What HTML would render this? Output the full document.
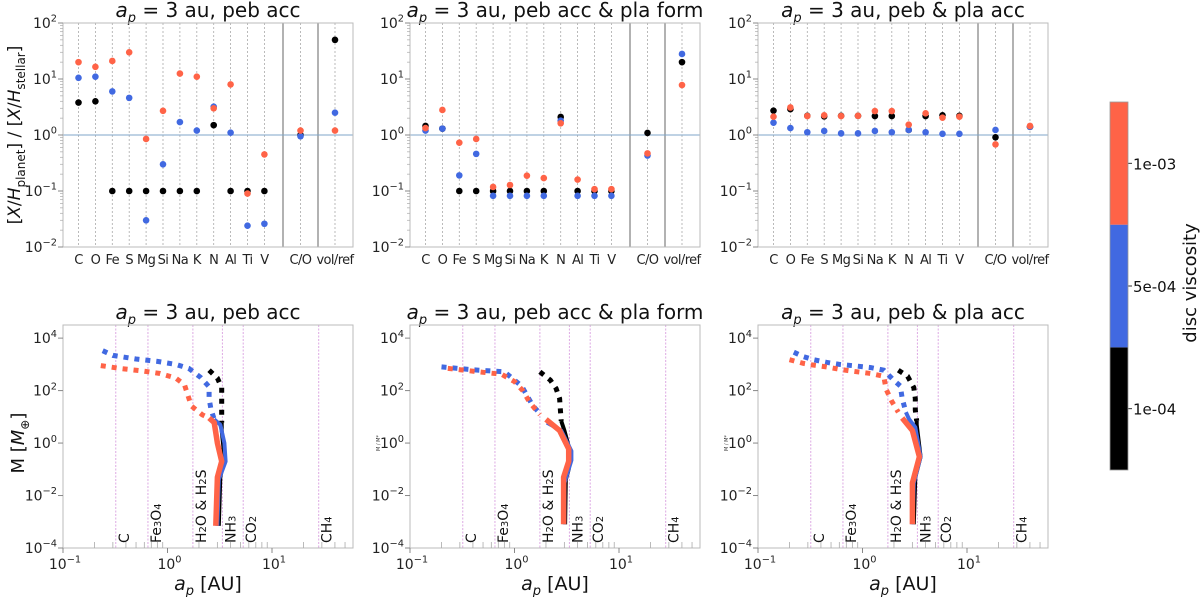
<!DOCTYPE html>
<html><head><meta charset="utf-8"><style>
body{margin:0;background:#fff}
svg{display:block;font-family:"DejaVu Sans","Liberation Sans",sans-serif}
</style></head><body>
<svg id="fig" width="1200" height="597" viewBox="0 0 1200 597">
<g id="root"></g>
</svg>
<script>
// ---------- data ----------
const elements = ["C","O","Fe","S","Mg","Si","Na","K","N","Al","Ti","V","C/O","vol/ref"];
const viscLabels = ["1e-04","5e-04","1e-03"];
const colors = ["#000000","#4169E1","#FF6347"];
const topTitles = ["peb acc","peb acc & pla form","peb & pla acc"];
// abundance ratios, per panel, per viscosity (black, blue, red)
const p1Black = [3.8,4.0,0.1,0.1,0.1,0.1,0.1,0.1,1.5,0.1,0.1,0.1,1.0,50];
const p1Blue  = [10.5,11,6,4.6,0.03,0.3,1.7,1.2,3.2,1.1,0.024,0.026,0.95,2.5];
const p1Red   = [20,16.5,21,30,0.85,2.7,12.5,11,3.0,8,0.09,0.45,1.2,1.2];
const p2Black = [1.45,1.3,0.1,0.1,0.1,0.1,0.1,0.1,2.1,0.1,0.1,0.1,1.09,20];
const p2Blue  = [1.2,1.3,0.19,0.46,0.082,0.082,0.082,0.082,1.8,0.082,0.082,0.082,0.43,28];
const p2Red   = [1.33,2.8,0.73,0.85,0.118,0.128,0.188,0.17,1.62,0.16,0.108,0.108,0.47,7.8];
const p3Black = [2.72,2.9,2.2,2.15,2.2,2.2,2.18,2.18,1.23,2.18,2.25,2.2,0.91,1.4];
const p3Blue  = [1.66,1.33,1.12,1.18,1.07,1.07,1.18,1.12,1.23,1.12,1.05,1.05,1.23,1.4];
const p3Red   = [2.12,3.1,2.18,2.25,2.18,2.2,2.68,2.68,1.53,2.44,2.04,2.12,0.68,1.45];
// growth tracks: [a_p AU, M Mearth]; dotted part then solid part
const t1BlackDot = [[2.5,600],[3.0,300],[3.3,130],[3.3,40],[3.3,15],[3.3,6]];
const t1BlackSol = [[3.3,6],[3.3,3],[3.5,0.3],[3.2,0.05],[3.1,0.0007]];
const t1BlueDot  = [[0.24,3300],[0.3,2200],[0.5,1600],[0.8,1300],[1.2,1000],[1.6,700],[2.07,320],[2.5,140],[2.5,50],[2.6,20],[2.8,8]];
const t1BlueSol  = [[2.8,8],[3.2,5],[3.5,1.0],[3.6,0.2],[3.1,0.04],[3.0,0.0007]];
const t1RedDot   = [[0.23,900],[0.35,700],[0.6,550],[0.85,450],[1.2,300],[1.45,170],[1.69,26],[2.15,12],[2.5,9]];
const t1RedSol   = [[2.5,9],[2.8,6],[3.0,1],[3.3,0.2],[3.0,0.05],[2.9,0.0007]];
const t2BlackDot = [[1.75,520],[2.2,250],[2.5,120],[2.7,50],[2.75,18],[2.8,7]];
const t2BlackSol = [[2.8,7],[3.0,3],[3.4,0.5],[3.3,0.1],[3.1,0.04],[3.05,0.0008]];
const t2BlueDot  = [[0.2,800],[0.4,620],[0.8,520],[1.17,150],[1.5,26],[1.8,12]];
const t2BlueSol  = [[2.04,6],[2.8,3],[3.5,0.5],[3.5,0.22],[3.0,0.03],[3.0,0.0008]];
const t2RedDot   = [[0.23,700],[0.5,500],[0.75,420],[1.0,220],[1.2,100],[1.4,35],[1.75,12]];
const t2RedSol   = [[2.0,8],[2.7,3],[3.3,0.6],[3.3,0.2],[2.95,0.05],[2.95,0.0008]];
const t3BlackDot = [[2.2,600],[2.7,350],[3.1,130],[3.2,50],[3.2,18],[3.3,7]];
const t3BlackSol = [[3.3,7],[3.3,5],[3.6,0.3],[3.2,0.05],[3.1,0.0008]];
const t3BlueDot  = [[0.22,2900],[0.27,2000],[0.34,1500],[0.45,1200],[0.6,1000],[0.8,900],[1.2,750],[1.6,600],[1.95,270],[2.3,150],[2.4,50],[2.6,15]];
const t3BlueSol  = [[2.6,15],[2.8,8],[3.2,4],[3.6,0.3],[3.1,0.03],[3.0,0.0008]];
const t3RedDot   = [[0.2,1500],[0.27,1100],[0.33,950],[0.45,800],[0.6,650],[0.8,550],[1.2,450],[1.6,350],[1.68,115],[1.9,40],[2.2,15]];
const t3RedSol   = [[2.4,9],[3.0,3],[3.5,0.3],[3.0,0.03],[3.0,0.0008]];
const iceNames = ["C","Fe3O4","H2O & H2S","NH3","CO2","CH4"];
const iceLines = [0.32,0.65,1.75,3.35,5.3,28];
const topTicks = [2,1,0,-1,-2];
const botYTicks = [4,2,0,-2,-4];
const botXTicks = [-1,0,1];

// ---------- helpers ----------
const NS="http://www.w3.org/2000/svg";
const root=document.getElementById('root');
function mk(tag,attrs,parent){const e=document.createElementNS(NS,tag);for(const k in attrs)e.setAttribute(k,attrs[k]);(parent||root).appendChild(e);return e;}
const PX=[63,410,758], PW=290;
const TT=23, TB=247, BT=325, BB=548;
function yTop(v){return TB-(Math.log10(v)+2)/4*(TB-TT);}
function yBot(v){return BB-(Math.log10(v)+4)/8.5*(BB-BT);}
function xBot(p,a){return PX[p]+(Math.log10(a)+1)*104.5;}
function catX(p,i){return PX[p]+(i<12?15.5+i*16.9:(i==12?237.5:272));}
function supText(x,y,base,exp,anchor,size,name){
  const t=mk('text',{x:x,y:y,'text-anchor':anchor,'font-size':size,fill:'#222'});
  
  
  t.appendChild(document.createTextNode(base));
  const s=mk('tspan',{dy:-size*0.45,'font-size':size*0.7},t);s.textContent=exp;
  return t;
}
const topData=[[p1Black,p1Blue,p1Red],[p2Black,p2Blue,p2Red],[p3Black,p3Blue,p3Red]];
const trackDot=[[t1BlackDot,t1BlueDot,t1RedDot],[t2BlackDot,t2BlueDot,t2RedDot],[t3BlackDot,t3BlueDot,t3RedDot]];
const trackSol=[[t1BlackSol,t1BlueSol,t1RedSol],[t2BlackSol,t2BlueSol,t2RedSol],[t3BlackSol,t3BlueSol,t3RedSol]];

for(let p=0;p<3;p++){
  const x0=PX[p];
  // ---- top panel ----
  const g=mk('g',{});
  
  
  const tt=mk('text',{x:x0+PW/2,y:17,'text-anchor':'middle','font-size':20,fill:'#111'},g);
  
  
  tt.innerHTML='<tspan font-style="italic">a</tspan><tspan font-style="italic" font-size="13" dy="5">p</tspan><tspan dy="-5"> = 3 au, '+topTitles[p].replace('&','&amp;')+'</tspan>';
  for(let i=0;i<elements.length;i++){
    const cx=catX(p,i);
    mk('line',{x1:cx,x2:cx,y1:TT,y2:TB,stroke:'#aaa','stroke-width':0.8,'stroke-dasharray':'2,2'},g);
    const lb=mk('text',{x:cx,y:264,'text-anchor':'middle','font-size':13,'letter-spacing':'-0.6',fill:'#222'},g);
    
    
    lb.textContent=elements[i];
  }
  [220,255].forEach(o=>mk('line',{x1:x0+o,x2:x0+o,y1:TT,y2:TB,stroke:'#888','stroke-width':1.3},g));
  mk('line',{x1:x0,x2:x0+PW,y1:yTop(1),y2:yTop(1),stroke:'#7fa6c9','stroke-width':1},g);
  mk('rect',{x:x0,y:TT,width:PW,height:TB-TT,fill:'none',stroke:'#bbb','stroke-width':1},g);
  topTicks.forEach(t=>{
    const y=yTop(Math.pow(10,t));
    mk('line',{x1:x0-5,x2:x0,y1:y,y2:y,stroke:'#888'},g);
    supText(x0-6,y+5,'10',(t<0?'−':'')+Math.abs(t),'end',14,'y-tick-label');
    if(t<2)for(let m=2;m<10;m++){const ym=yTop(Math.pow(10,t)*m);mk('line',{x1:x0-3,x2:x0,y1:ym,y2:ym,stroke:'#aaa','stroke-width':0.7},g);}
  });
  for(let v=0;v<3;v++){
    const vals=topData[p][v];
    for(let i=0;i<vals.length;i++){
      const c=mk('circle',{cx:catX(p,i),cy:yTop(vals[i]),r:3.3,fill:colors[v]},g);
      
      
    }
  }
  // ---- bottom panel ----
  const b=mk('g',{});
  
  
  const bt=mk('text',{x:x0+PW/2,y:319,'text-anchor':'middle','font-size':20,fill:'#111'},b);
  
  
  bt.innerHTML='<tspan font-style="italic">a</tspan><tspan font-style="italic" font-size="13" dy="5">p</tspan><tspan dy="-5"> = 3 au, '+topTitles[p].replace('&','&amp;')+'</tspan>';
  iceLines.forEach((a,k)=>{
    const x=xBot(p,a);
    mk('line',{x1:x,x2:x,y1:BT,y2:BB,stroke:'#d9a0e0','stroke-width':0.9,'stroke-dasharray':'2,1.5'},b);
    const lt=mk('text',{x:0,y:0,'font-size':14,fill:'#111',transform:`translate(${x+13},${BB-5}) rotate(-90)`},b);
    
    
    lt.innerHTML=iceNames[k].replace('&','&amp;').replace(/(\d)/g,'<tspan font-size="10">$1</tspan>');
  });
  mk('rect',{x:x0,y:BT,width:PW,height:BB-BT,fill:'none',stroke:'#bbb','stroke-width':1},b);
  botYTicks.forEach(t=>{
    const y=yBot(Math.pow(10,t));
    mk('line',{x1:x0-5,x2:x0,y1:y,y2:y,stroke:'#888'},b);
    supText(x0-6,y+5,'10',(t<0?'−':'')+Math.abs(t),'end',14,'y-tick-label');
  });
  botXTicks.forEach(t=>{
    const x=xBot(p,Math.pow(10,t));
    mk('line',{x1:x,x2:x,y1:BB,y2:BB+5,stroke:'#888'},b);
    supText(x+2,BB+21,'10',(t<0?'−':'')+Math.abs(t),'middle',14,'x-tick-label');
  });
  [0.1,1,10].forEach(d=>{for(let m=2;m<10;m++){const a=d*m;if(Math.log10(a)>1.77)continue;const x=xBot(p,a);mk('line',{x1:x,x2:x,y1:BB-6,y2:BB,stroke:'#aaa','stroke-width':0.8},b);}});
  const xl=mk('text',{x:x0+PW/2,y:590,'text-anchor':'middle','font-size':19,fill:'#111'},b);
  
  
  xl.innerHTML='<tspan font-style="italic">a</tspan><tspan font-style="italic" font-size="13" dy="5">p</tspan><tspan dy="-5"> [AU]</tspan>';
  if(p>0){
    const sl=mk('text',{x:0,y:0,'font-size':5,fill:'#333','text-anchor':'middle',transform:`translate(${x0-30},${yBot(1)}) rotate(-90)`},b);
    
    
    sl.textContent='M / M*';
  }
  const widths=[4,4,5.5];
  for(let v=0;v<3;v++){
    const toPts=arr=>arr.map(q=>xBot(p,q[0]).toFixed(1)+','+yBot(q[1]).toFixed(1)).join(' ');
    const d=mk('polyline',{points:toPts(trackDot[p][v]),fill:'none',stroke:colors[v],'stroke-width':5,'stroke-dasharray':'5,6'},b);
    
    
    const s=mk('polyline',{points:toPts(trackSol[p][v]),fill:'none',stroke:colors[v],'stroke-width':widths[v],'stroke-linejoin':'round'},b);
    
    
  }
}
// axis titles
const yt=mk('text',{x:0,y:0,'font-size':17,fill:'#111','text-anchor':'middle',transform:'translate(20,135) rotate(-90)'});


yt.innerHTML='[<tspan font-style="italic">X</tspan>/<tspan font-style="italic">H</tspan><tspan font-size="12" dy="5">planet</tspan><tspan dy="-5">] / [</tspan><tspan font-style="italic">X</tspan>/<tspan font-style="italic">H</tspan><tspan font-size="12" dy="5">stellar</tspan><tspan dy="-5">]</tspan>';
const ym=mk('text',{x:0,y:0,'font-size':18,fill:'#111','text-anchor':'middle',transform:`translate(24,${yBot(1)}) rotate(-90)`});


ym.innerHTML='M [<tspan font-style="italic">M</tspan><tspan font-size="12" dy="5">⊕</tspan><tspan dy="-5">]</tspan>';
// colorbar
const cb=mk('g',{});


const cbTop=102, cbH=368, seg=cbH/3;
for(let v=0;v<3;v++){
  const y=cbTop+(2-v)*seg;
  mk('rect',{x:1110,y:y,width:18,height:seg,fill:colors[v]},cb);
  mk('line',{x1:1128,x2:1132,y1:y+seg/2,y2:y+seg/2,stroke:'#333'},cb);
  const l=mk('text',{x:1133,y:y+seg/2+6,'font-size':15,fill:'#111'},cb);
  
  
  l.textContent=viscLabels[v];
}
mk('rect',{x:1110,y:cbTop,width:18,height:cbH,fill:'none',stroke:'#999','stroke-width':0.8},cb);
const ct=mk('text',{x:0,y:0,'font-size':18,fill:'#111','text-anchor':'middle',transform:'translate(1196,283) rotate(-90)'},cb);


ct.textContent='disc viscosity';
</script>
</body></html>
